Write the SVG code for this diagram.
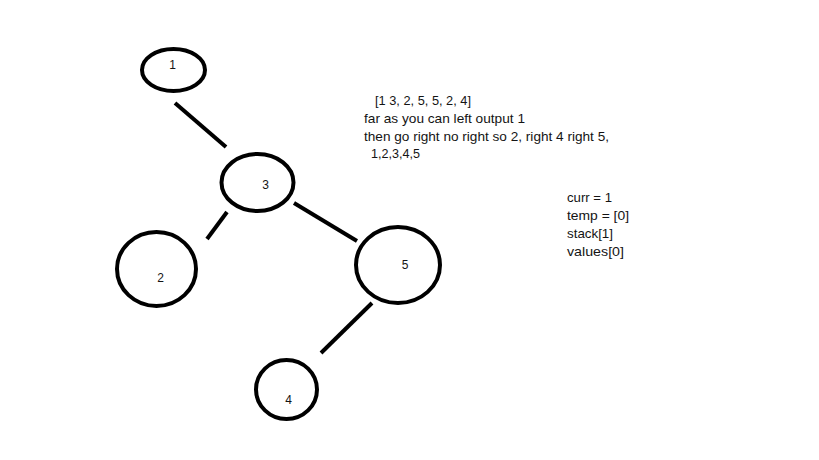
<svg xmlns="http://www.w3.org/2000/svg" width="819" height="460" viewBox="0 0 819 460">
<style>
.node ellipse{fill:none;stroke:#000;stroke-width:4}
.lbl{font-family:"Liberation Sans",Arial,sans-serif;font-size:12px;fill:#141414;text-anchor:middle}
.txt{font-family:"Liberation Sans",Arial,sans-serif;font-size:13px;fill:#141414}
#edges line{stroke:#000;stroke-width:4}
</style>
<rect width="819" height="460" fill="#fff"/>
<g id="edges">
<line x1="175" y1="103" x2="226" y2="147"/>
<line x1="227" y1="212" x2="207" y2="239"/>
<line x1="294" y1="203" x2="357" y2="241"/>
<line x1="372" y1="303" x2="321" y2="353"/>
</g>
<g id="node1" class="node"><ellipse cx="173.5" cy="70" rx="31.5" ry="21"/><text class="lbl" x="172.5" y="69">1</text></g>
<g id="node3" class="node"><ellipse cx="257.5" cy="182.5" rx="36" ry="28.5"/><text class="lbl" x="265.5" y="189">3</text></g>
<g id="node2" class="node"><ellipse cx="156.5" cy="269" rx="39.5" ry="37"/><text class="lbl" x="160.5" y="282">2</text></g>
<g id="node5" class="node"><ellipse cx="398" cy="265" rx="42" ry="38"/><text class="lbl" x="405" y="269">5</text></g>
<g id="node4" class="node"><ellipse cx="286.5" cy="389.5" rx="30.5" ry="29.5"/><text class="lbl" x="288.5" y="404">4</text></g>
<g id="notes">
<text class="txt" x="375" y="105" textLength="96" lengthAdjust="spacingAndGlyphs">[1 3, 2, 5, 5, 2, 4]</text>
<text class="txt" x="364" y="123" textLength="161" lengthAdjust="spacingAndGlyphs">far as you can left output 1</text>
<text class="txt" x="364" y="141" textLength="245" lengthAdjust="spacingAndGlyphs">then go right no right so 2, right 4 right 5,</text>
<text class="txt" x="371" y="158" textLength="49" lengthAdjust="spacingAndGlyphs">1,2,3,4,5</text>
</g>
<g id="state">
<text class="txt" x="567" y="202" textLength="45" lengthAdjust="spacingAndGlyphs">curr = 1</text>
<text class="txt" x="567" y="220" textLength="62" lengthAdjust="spacingAndGlyphs">temp = [0]</text>
<text class="txt" x="567" y="238" textLength="46" lengthAdjust="spacingAndGlyphs">stack[1]</text>
<text class="txt" x="567" y="256" textLength="57" lengthAdjust="spacingAndGlyphs">values[0]</text>
</g>
</svg>
